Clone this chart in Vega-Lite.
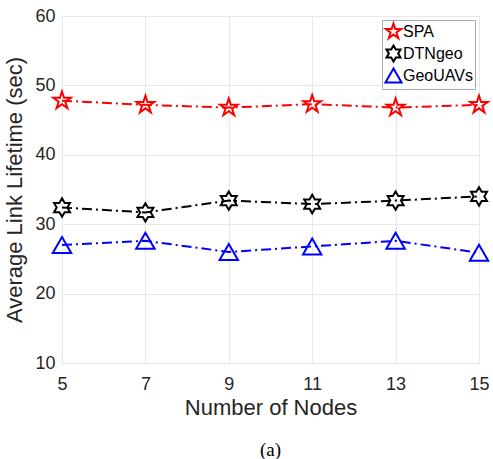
{
  "$schema": "https://vega.github.io/schema/vega-lite/v6.json",
  "width": 417,
  "height": 347,
  "autosize": {"type": "none"},
  "padding": {"left": 62, "top": 16, "right": 14, "bottom": 96},
  "background": "white",
  "title": {
    "text": "(a)",
    "orient": "bottom",
    "anchor": "middle",
    "font": "Liberation Serif",
    "fontSize": 19,
    "fontWeight": "normal",
    "color": "#000000",
    "offset": 23
  },
  "config": {
    "view": {"stroke": "#aaaaaa", "strokeWidth": 1},
    "font": "Liberation Sans",
    "axis": {
      "domain": false,
      "ticks": false,
      "grid": true,
      "gridColor": "#e8e8e8",
      "gridWidth": 1,
      "labelFont": "Liberation Sans",
      "labelFontSize": 18,
      "labelColor": "#262626",
      "titleFont": "Liberation Sans",
      "titleFontSize": 22,
      "titleFontWeight": "normal",
      "titleColor": "#262626"
    }
  },
  "data": {
    "values": [
      {"nodes": 5, "series": "SPA", "value": 47.8},
      {"nodes": 7, "series": "SPA", "value": 47.2},
      {"nodes": 9, "series": "SPA", "value": 46.8},
      {"nodes": 11, "series": "SPA", "value": 47.3},
      {"nodes": 13, "series": "SPA", "value": 46.8},
      {"nodes": 15, "series": "SPA", "value": 47.2},
      {"nodes": 5, "series": "DTNgeo", "value": 32.4},
      {"nodes": 7, "series": "DTNgeo", "value": 31.7},
      {"nodes": 9, "series": "DTNgeo", "value": 33.4},
      {"nodes": 11, "series": "DTNgeo", "value": 32.9},
      {"nodes": 13, "series": "DTNgeo", "value": 33.4},
      {"nodes": 15, "series": "DTNgeo", "value": 34.0},
      {"nodes": 5, "series": "GeoUAVs", "value": 27.0},
      {"nodes": 7, "series": "GeoUAVs", "value": 27.6},
      {"nodes": 9, "series": "GeoUAVs", "value": 26.0},
      {"nodes": 11, "series": "GeoUAVs", "value": 26.8},
      {"nodes": 13, "series": "GeoUAVs", "value": 27.6},
      {"nodes": 15, "series": "GeoUAVs", "value": 25.9}
    ]
  },
  "encoding": {
    "x": {
      "field": "nodes",
      "type": "quantitative",
      "scale": {"domain": [5, 15], "nice": false, "zero": false},
      "axis": {"values": [5, 7, 9, 11, 13, 15], "title": "Number of Nodes", "labelPadding": 12, "titlePadding": 4, "labelFlush": false}
    },
    "y": {
      "field": "value",
      "type": "quantitative",
      "scale": {"domain": [10, 60], "nice": false, "zero": false},
      "axis": {"values": [10, 20, 30, 40, 50, 60], "title": "Average Link Lifetime (sec)", "labelPadding": 7, "titlePadding": 8, "labelFlush": false}
    },
    "color": {
      "field": "series",
      "type": "nominal",
      "scale": {"domain": ["SPA", "DTNgeo", "GeoUAVs"], "range": ["#ff0000", "#000000", "#0000ff"]},
      "legend": {
        "title": null,
        "orient": "top-right",
        "offset": 4,
        "padding": 2,
        "strokeColor": "#aaaaaa",
        "fillColor": "white",
        "labelFont": "Liberation Sans",
        "labelFontSize": 16,
        "labelColor": "#000000",
        "symbolStrokeWidth": 2,
        "symbolSize": 260,
        "labelOffset": 0,
        "rowPadding": -2
      }
    }
  },
  "layer": [
    {
      "mark": {"type": "line", "strokeWidth": 2, "strokeDash": [10, 4, 2, 4]}
    },
    {
      "mark": {"type": "point", "filled": false, "strokeWidth": 2, "opacity": 1, "size": 340},
      "encoding": {
        "shape": {
          "field": "series",
          "type": "nominal",
          "scale": {
            "domain": ["SPA", "DTNgeo", "GeoUAVs"],
            "range": [
              "M0,-1L0.225,-0.309L0.951,-0.309L0.363,0.118L0.588,0.809L0,0.382L-0.588,0.809L-0.363,0.118L-0.951,-0.309L-0.225,-0.309Z",
              "M0,-1L0.289,-0.5L0.866,-0.5L0.577,0L0.866,0.5L0.289,0.5L0,1L-0.289,0.5L-0.866,0.5L-0.577,0L-0.866,-0.5L-0.289,-0.5Z",
              "triangle-up"
            ]
          }
        }
      }
    }
  ]
}
